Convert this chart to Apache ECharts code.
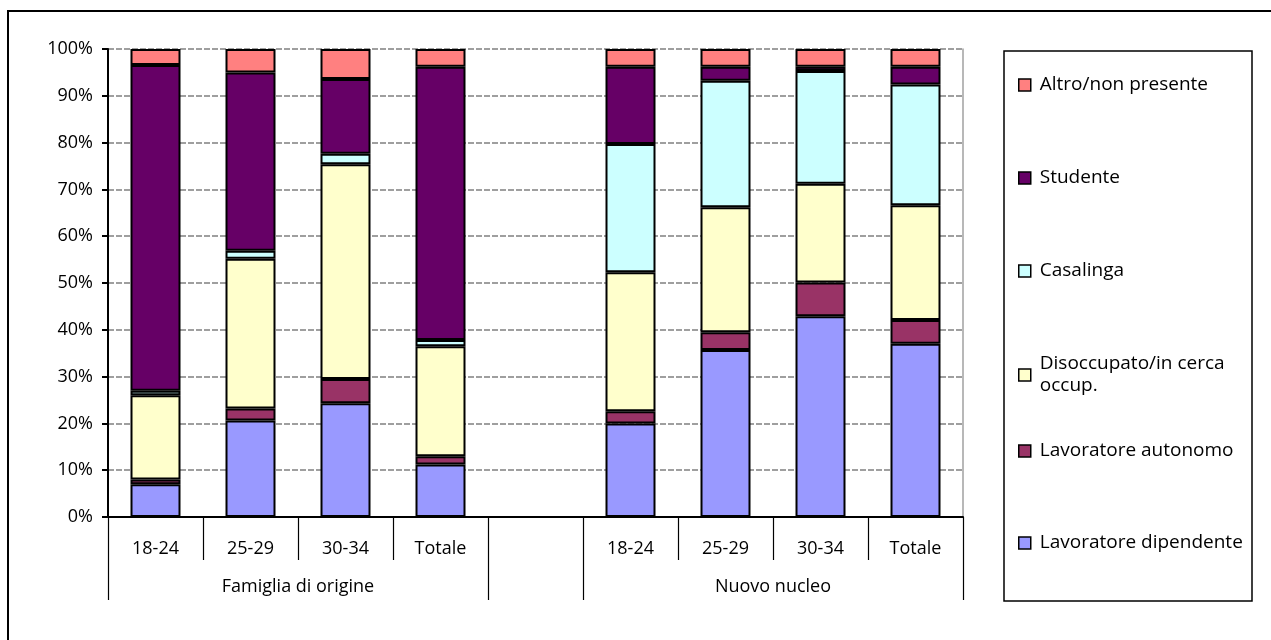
<!DOCTYPE html>
<html>
<head>
<meta charset="utf-8">
<script src="https://cdn.jsdelivr.net/npm/echarts@6/dist/echarts.min.js"></script>
<style>
html,body{margin:0;padding:0;background:#fff;}
#chart{width:1271px;height:640px;}
</style>
</head>
<body>
<div id="chart"></div>
<script>
var categories = ['18-24','25-29','30-34','Totale','','18-24','25-29','30-34','Totale'];
var groupLabels = ['Famiglia di origine','Nuovo nucleo'];
var groupBoundaries = [0,4,5,9];
var groupLabelPositions = [2,7];

var dipendente = [7.0, 20.6, 24.3, 11.2, null, 20.0, 35.7, 42.9, 37.0];
var autonomo   = [1.0,  2.6,  5.2,  1.8, null,  2.6,  3.8,  7.2,  5.1];
var disocc     = [18.0, 32.0, 45.9, 23.5, null, 29.7, 26.7, 21.1, 24.5];
var casalinga  = [1.0,  1.7,  2.2,  1.3, null, 27.4, 27.0, 24.1, 25.8];
var studente   = [69.6, 38.1, 16.0, 58.4, null, 16.5, 3.0,  0.9,  3.8];
var altro      = [3.4,  5.0,  6.4,  3.8, null,  3.8,  3.8,  3.8,  3.8];

var seriesNames = ['Lavoratore dipendente','Lavoratore autonomo','Disoccupato/in cerca\noccup.','Casalinga','Studente','Altro/non presente'];
var seriesData = [dipendente, autonomo, disocc, casalinga, studente, altro];
var seriesColors = ['#9999FF','#993366','#FFFFCC','#CCFFFF','#660066','#FF8080'];

var FONT = 'Open Sans';
var chart = echarts.init(document.getElementById('chart'));

var series = seriesNames.map(function(n,i){
  return {
    name: n, type: 'bar', stack: 'all', barWidth: 50,
    xAxisIndex: 0, yAxisIndex: 0,
    data: seriesData[i],
    itemStyle: {color: seriesColors[i], borderColor: '#000', borderWidth: 2},
    emphasis: {disabled: true},
    animation: false
  };
});

var legendOrder = [5,4,3,2,1,0];
var legendCenters = [85,178,271,375,451,543];
var legends = legendOrder.map(function(si,k){
  var twoLine = seriesNames[si].indexOf('\n') >= 0;
  return {
    data: [seriesNames[si]],
    left: 1018,
    top: legendCenters[k] - (twoLine ? 22 : 11),
    orient: 'vertical',
    itemWidth: 12, itemHeight: 12, itemGap: 0,
    icon: 'rect',
    selectedMode: false,
    padding: 0,
    itemStyle: {borderColor: '#000', borderWidth: 1.5},
    textStyle: {fontFamily: FONT, fontSize: 19, color: '#000', lineHeight: 22, padding: [0,0,0,4]}
  };
});

chart.setOption({
  backgroundColor: '#fff',
  animation: false,
  grid: [
    {left: 108, top: 49, width: 855, height: 468, containLabel: false},
    {left: 108, top: 560, width: 855, height: 40, containLabel: false}
  ],
  legend: legends,
  xAxis: [{
    type: 'category', data: categories, gridIndex: 0,
    axisLine: {lineStyle: {color: '#000', width: 2}},
    axisTick: {show: true, interval: 0, length: 43, lineStyle: {color: '#000', width: 1.2}},
    axisLabel: {interval: 0, margin: 23, fontFamily: FONT, fontSize: 18, color: '#000'},
    splitLine: {show: false}
  },{
    type: 'value', min: 0, max: 9, gridIndex: 1, position: 'bottom',
    axisLine: {show: false, onZero: false},
    axisTick: {show: true, customValues: groupBoundaries, length: 0, lineStyle: {color: 'rgba(0,0,0,0)', width: 0}},
    axisLabel: {show: true, inside: true, customValues: groupLabelPositions, margin: 4, fontFamily: FONT, fontSize: 18, color: '#000',
      formatter: function(v){ return groupLabels[groupLabelPositions.indexOf(v)] || ''; }},
    splitLine: {show: true, lineStyle: {color: '#000', width: 1.2, type: 'solid'}}
  }],
  yAxis: [{
    type: 'value', min: 0, max: 100, interval: 10, gridIndex: 0,
    axisLine: {show: true, lineStyle: {color: '#000', width: 2}},
    axisTick: {show: true, length: 6, lineStyle: {color: '#000', width: 2}},
    axisLabel: {margin: 15, fontFamily: FONT, fontSize: 18, color: '#000', formatter: '{value}%'},
    splitLine: {show: true, lineStyle: {color: '#808080', type: [6,2], width: 1.5}}
  },{
    type: 'value', min: 0, max: 100, position: 'right', gridIndex: 0,
    axisLine: {show: true, lineStyle: {color: '#A0A0A0', width: 1.5}},
    axisTick: {show: false}, axisLabel: {show: false}, splitLine: {show: false}
  },{
    type: 'value', min: 0, max: 1, gridIndex: 1, show: false
  }],
  graphic: [
    {type: 'rect', shape: {x: 8, y: 11, width: 1300, height: 700}, style: {fill: 'none', stroke: '#000', lineWidth: 2}, silent: true, z: -1},
    {type: 'rect', shape: {x: 1004, y: 51, width: 248, height: 550}, style: {fill: 'none', stroke: '#000', lineWidth: 1.5}, silent: true}
  ],
  series: series
});
</script>
</body>
</html>
